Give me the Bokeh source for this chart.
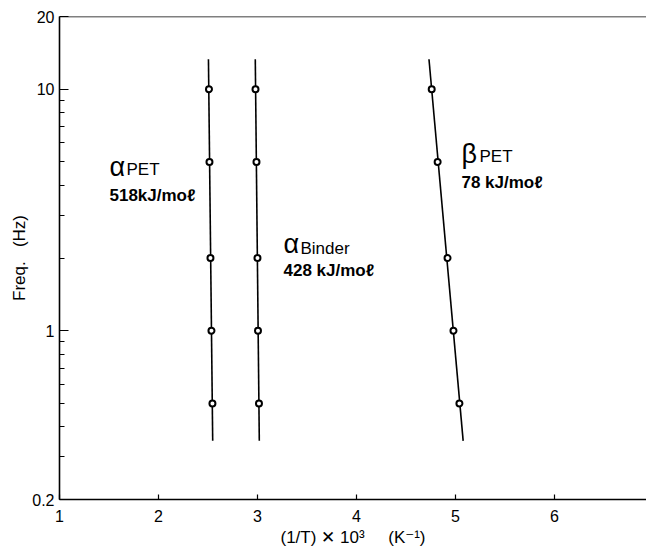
import numpy as np
from bokeh.plotting import figure
from bokeh.models import Label, FixedTicker, Span
from bokeh.embed import file_html
from bokeh.resources import INLINE

# ---- data ----
freq = [10, 5, 2, 1, 0.5]                       # Hz
x_alpha_pet = [2.51, 2.515, 2.525, 2.535, 2.545]  # (1/T)x10^3
x_alpha_binder = [2.98, 2.99, 3.0, 3.005, 3.015]
x_beta_pet = [4.76, 4.82, 4.92, 4.98, 5.04]
fit_freq_span = [13.3, 0.35]                     # extent of fitted lines

x_ticks = [1, 2, 3, 4, 5, 6]
y_ticks = [0.2, 1, 10, 20]
y_tick_labels = {0.2: "0.2", 1: "1", 10: "10", 20: "20"}
y_minor = [0.3, 0.4, 0.5, 0.6, 0.7, 0.8, 0.9, 2, 3, 4, 5, 6, 7, 8, 9]

FONT = "'Liberation Sans Narrow', 'Liberation Sans', Arial, sans-serif"
TFONT = "'Liberation Sans', Arial, 'DejaVu Sans', sans-serif"
NB = "\u00a0"

p = figure(width=646, height=553, x_range=(1, 6.93), y_range=(0.2, 20),
           y_axis_type="log", output_backend="svg", toolbar_location=None,
           min_border_left=59, min_border_right=0, min_border_top=16,
           min_border_bottom=54)
p.outline_line_color = None
p.grid.visible = False
p.background_fill_color = "white"

# axes
p.xaxis.ticker = FixedTicker(ticks=x_ticks)
p.yaxis.ticker = FixedTicker(ticks=y_ticks, minor_ticks=y_minor)
p.yaxis.major_label_overrides = y_tick_labels
for ax in (p.xaxis[0], p.yaxis[0]):
    ax.axis_line_color = "black"
    ax.axis_line_width = 1.6
    ax.major_tick_line_color = "black"
    ax.major_tick_line_width = 1.2
    ax.minor_tick_line_color = "black"
    ax.minor_tick_line_width = 1.0
    ax.major_tick_out = 0
    ax.minor_tick_out = 0
    ax.major_label_text_font = FONT
    ax.major_label_text_font_size = "16px"
    ax.major_label_text_color = "black"
    ax.axis_label_text_font = TFONT
    ax.axis_label_text_font_style = "normal"
    ax.axis_label_text_font_size = "17px"
    ax.axis_label_text_color = "black"
p.xaxis.major_tick_in = 5
p.xaxis.minor_tick_in = 0
p.xaxis.major_label_standoff = 10
p.xaxis.axis_label_standoff = 3
p.yaxis.major_tick_in = 9
p.yaxis.minor_tick_in = 5
p.yaxis.major_label_standoff = 5
p.yaxis.axis_label_standoff = 0
p.xaxis.axis_label = "(1/T)" + NB + "\u2715" + NB + "10\u00b3" + NB * 5 + "(K\u207b\u00b9)"
p.yaxis.axis_label = "Freq." + NB * 3 + "(Hz)"

# top border
p.add_layout(Span(location=20, dimension="width", line_color="black", line_width=1.6))

# series: fitted lines + points
lf = np.log10(np.array(freq))
span_lf = np.log10(np.array(fit_freq_span))
for xs in (x_alpha_pet, x_alpha_binder, x_beta_pet):
    b, a = np.polyfit(lf, np.array(xs), 1)
    p.line(a + b * span_lf, fit_freq_span, line_color="black", line_width=1.6)
    p.scatter(xs, freq, marker="circle", size=6, fill_color="white",
              line_color="black", line_width=2)


def px2x(px):
    return 1 + (px - 59) / 99.0


def px2y(py):
    return 0.2 * 10 ** ((499 - py) / 241.5)


def lab(px, py, text, size, style="normal"):
    p.add_layout(Label(x=px2x(px), y=px2y(py), text=text, text_font=TFONT,
                       text_font_size=size, text_font_style=style,
                       text_color="black", text_baseline="alphabetic",
                       text_align="left"))


lab(109, 166, "\u03b1", "27px")
lab(126, 169, "PET", "17px")
lab(109, 195, "518kJ/mo\u2113", "17px", "bold")

lab(283, 243, "\u03b1", "27px")
lab(300, 248, "Binder", "17px")
lab(283, 270, "428 kJ/mo\u2113", "17px", "bold")

lab(461, 153, "\u03b2", "27px")
lab(479, 156, "PET", "17px")
lab(461, 182, "78 kJ/mo\u2113", "17px", "bold")

open("out.html", "w").write(file_html(p, INLINE))
